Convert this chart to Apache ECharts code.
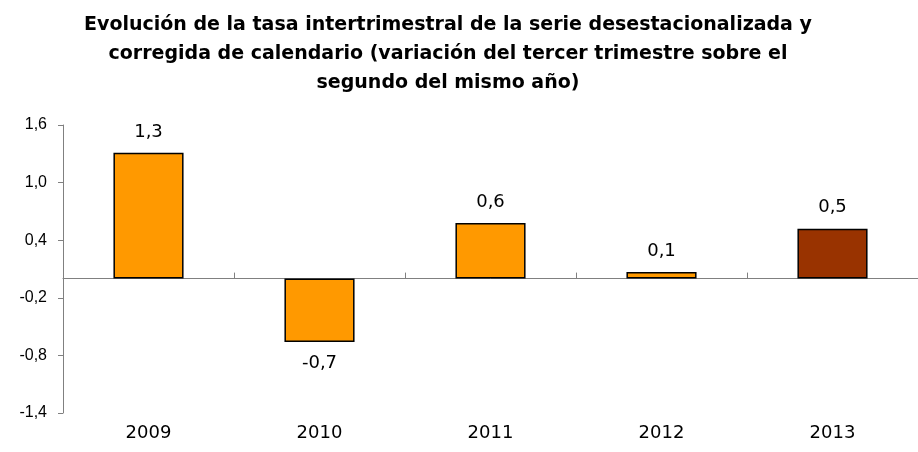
<!DOCTYPE html>
<html>
<head>
<meta charset="utf-8">
<script src="https://cdn.jsdelivr.net/npm/echarts@6/dist/echarts.min.js"></script>
<style>html,body{margin:0;padding:0;background:#fff}#c{width:918px;height:452px}</style>
</head>
<body>
<div id="c"></div>
<script>
const titleText = 'Evolución de la tasa intertrimestral de la serie desestacionalizada y\ncorregida de calendario (variación del tercer trimestre sobre el\nsegundo del mismo año)';
const categories = ['2009', '2010', '2011', '2012', '2013'];
const values = [1.31, -0.66, 0.58, 0.07, 0.52];
const barColors = ['#FF9900', '#FF9900', '#FF9900', '#FF9900', '#993300'];
const yTicks = { min: -1.4, max: 1.6, interval: 0.6 };

const fmt = v => v.toFixed(1).replace('.', ',').replace(/^-0,0$/, '0,0');

const chart = echarts.init(document.getElementById('c'), null, { renderer: 'canvas' });
chart.setOption({
  animation: false,
  backgroundColor: '#fff',
  textStyle: { fontFamily: 'Liberation Sans, Arial, sans-serif' },
  title: {
    text: titleText,
    left: 443,
    top: 6,
    textAlign: 'center',
    textStyle: { fontSize: 19, fontWeight: 'bold', color: '#000', lineHeight: 29, fontFamily: 'DejaVu Sans, sans-serif' }
  },
  grid: { left: 63, top: 125, width: 858, height: 288, containLabel: false },
  xAxis: [
    {
      type: 'category', data: categories, position: 'bottom',
      axisLine: { show: false, onZero: false }, axisTick: { show: false },
      axisLabel: { fontSize: 18, color: '#000', margin: 11, fontFamily: 'DejaVu Sans, sans-serif' }
    },
    {
      type: 'category', data: categories, position: 'bottom',
      axisLine: { show: true, onZero: true, lineStyle: { color: '#808080', width: 1 } },
      axisTick: { show: true, inside: true, length: 6, lineStyle: { color: '#808080' } },
      axisLabel: { show: false }
    }
  ],
  yAxis: {
    type: 'value', min: yTicks.min, max: yTicks.max, interval: yTicks.interval,
    axisLine: { show: true, lineStyle: { color: '#808080', width: 1 } },
    axisTick: { show: true, length: 5, lineStyle: { color: '#808080' } },
    splitLine: { show: false },
    axisLabel: { fontSize: 16, color: '#000', margin: 16, formatter: v => fmt(v) }
  },
  series: [{
    type: 'bar',
    xAxisIndex: 0,
    barWidth: '41%',
    data: values.map((v, i) => ({
      value: v,
      itemStyle: { color: barColors[i], borderColor: '#000', borderWidth: 1.5 },
      label: { position: v < 0 ? 'bottom' : 'top' }
    })),
    label: {
      show: true, distance: 12, fontSize: 18, color: '#000', fontFamily: 'DejaVu Sans, sans-serif',
      formatter: p => fmt(p.value)
    }
  }]
});
</script>
</body>
</html>
